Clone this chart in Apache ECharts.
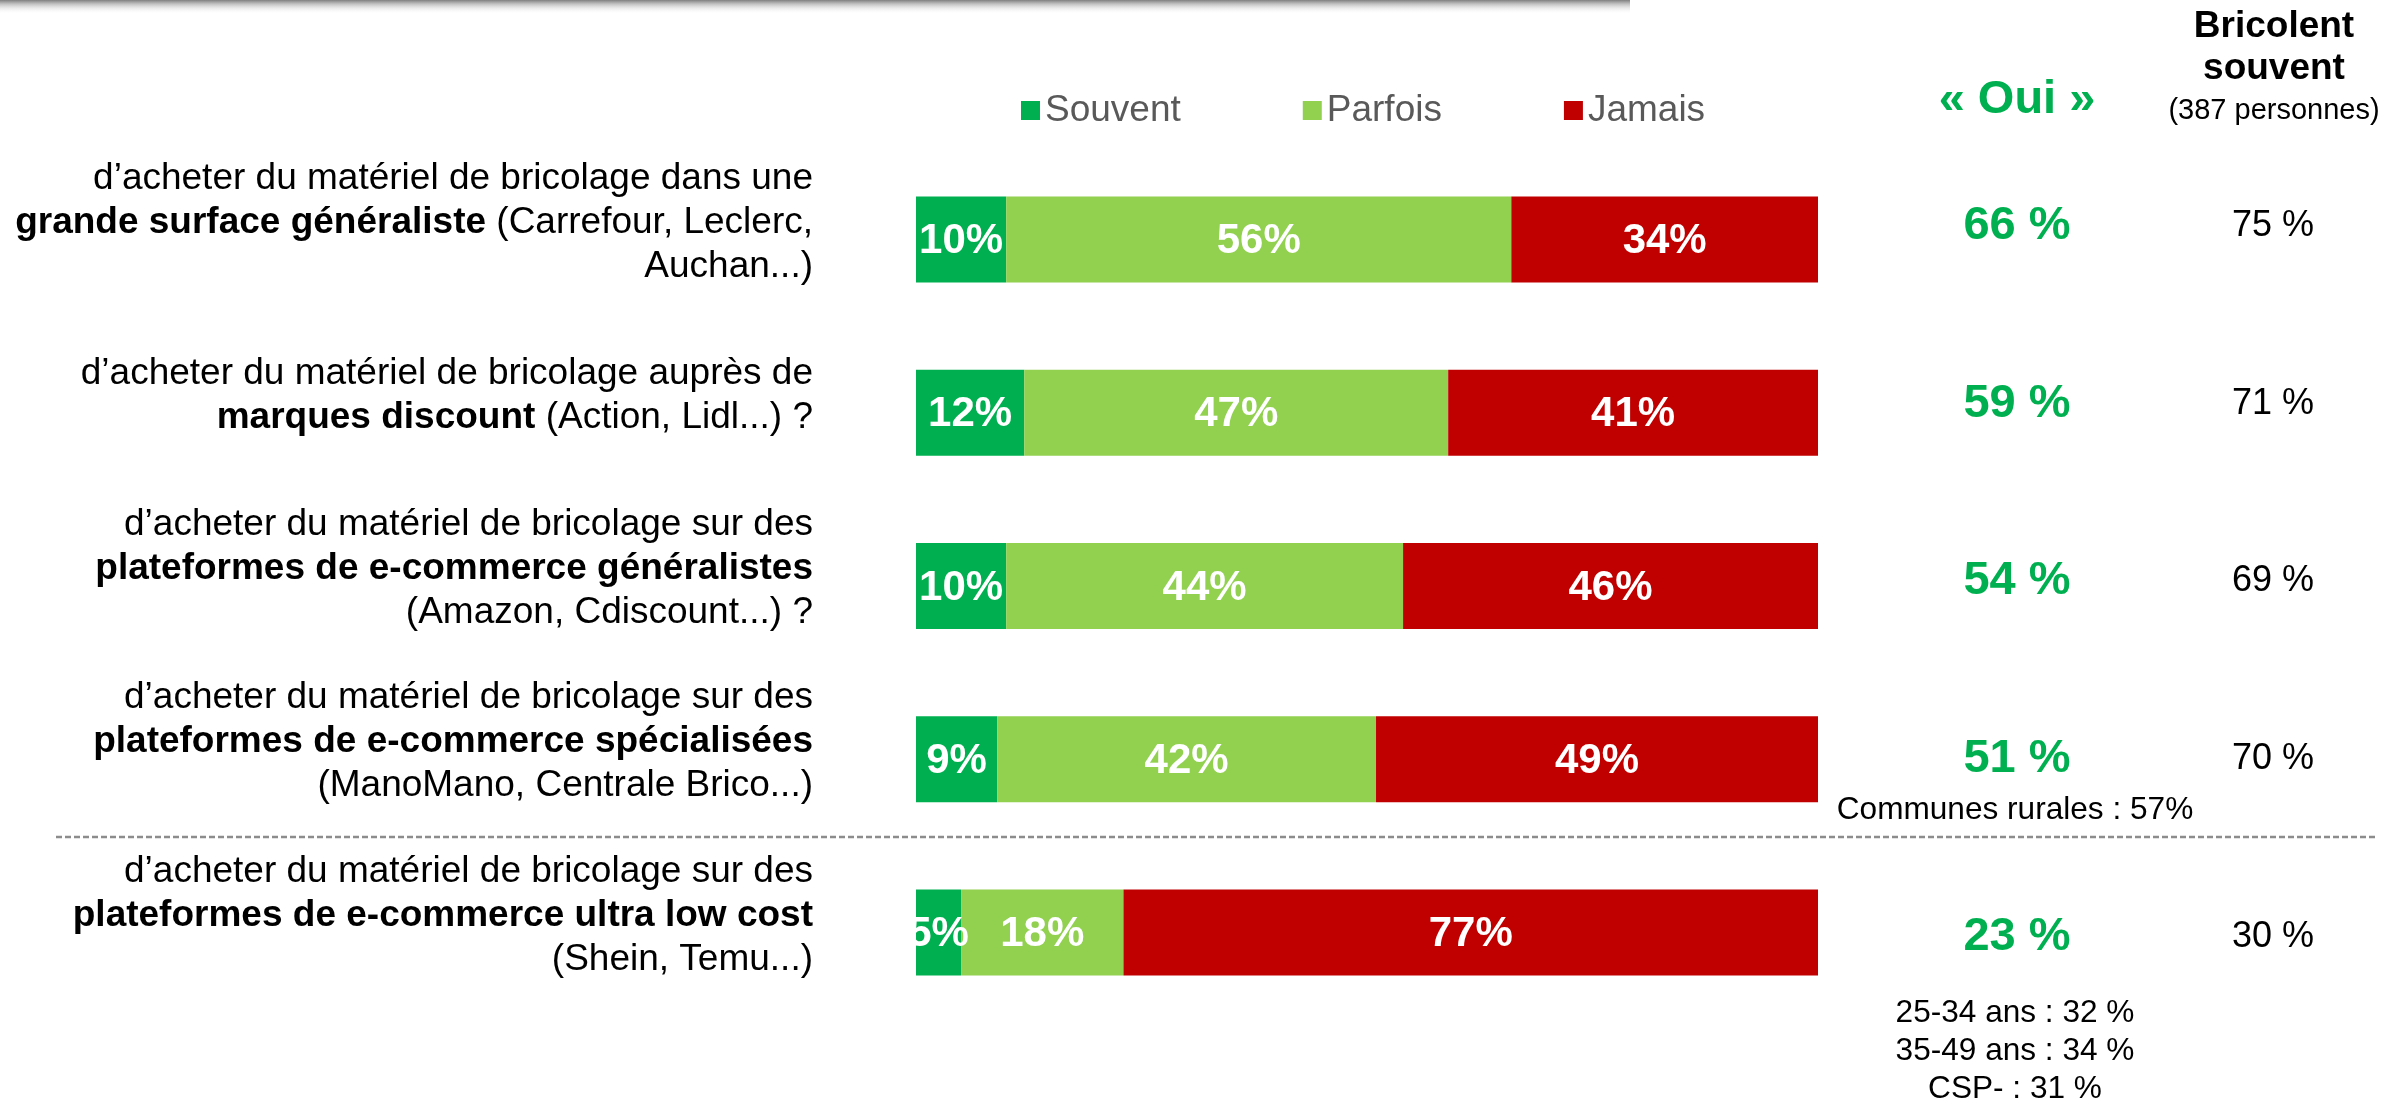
<!DOCTYPE html>
<html lang="fr">
<head>
    <meta charset="UTF-8">
    <title>Achat de matériel de bricolage</title>
    <style>
        body{
            margin: 0;
            background: #fff;
        }
        #main{
            width: 2382px;
            height: 1103px;
        }
    </style>
    <script src="https://cdn.jsdelivr.net/npm/echarts@6/dist/echarts.min.js"></script>
</head>
<body>
<div id="main"></div>
<script>
// questions, bold part between *...*
var questions = [
    'd’acheter du matériel de bricolage dans une\n*grande surface généraliste* (Carrefour, Leclerc,\nAuchan...)',
    'd’acheter du matériel de bricolage auprès de\n*marques discount* (Action, Lidl...) ?',
    'd’acheter du matériel de bricolage sur des\n*plateformes de e-commerce généralistes*\n(Amazon, Cdiscount...) ?',
    'd’acheter du matériel de bricolage sur des\n*plateformes de e-commerce spécialisées*\n(ManoMano, Centrale Brico...)',
    'd’acheter du matériel de bricolage sur des\n*plateformes de e-commerce ultra low cost*\n(Shein, Temu...)'
];
var souvent = [10, 12, 10, 9, 5];
var parfois = [56, 47, 44, 42, 18];
var jamais = [34, 41, 46, 49, 77];
var oui = [66, 59, 54, 51, 23];
var bricolentSouvent = [75, 71, 69, 70, 30];
var legendNames = ['Souvent', 'Parfois', 'Jamais'];
var notesRural = ['Communes rurales : 57%'];
var notesLowCost = ['25-34 ans : 32 %', '35-49 ans : 34 %', 'CSP- : 31 %'];

var FONT = 'Liberation Sans, Arial, sans-serif';
var GREEN = '#00B050', LIGHT = '#92D050', RED = '#C00000';

function toRich(s){
    return s.split('\n').map(function(line){
        return line.split('*').map(function(p, i){
            return p ? '{' + (i % 2 ? 'b' : 'n') + '|' + p + '}' : '';
        }).join('');
    }).join('\n');
}

function barSeries(name, data, color){
    return {
        name: name,
        type: 'bar',
        stack: 'total',
        barWidth: 86,
        data: data,
        itemStyle: { color: color },
        label: {
            show: true,
            position: 'inside',
            offset: [0, 2],
            formatter: '{c}%',
            color: '#fff',
            fontSize: 42,
            fontWeight: 'bold',
            fontFamily: FONT
        }
    };
}

function valueSeries(name, data, col, size, color, weight){
    return {
        name: name,
        type: 'scatter',
        xAxisIndex: 1,
        yAxisIndex: 1,
        symbolSize: 1,
        itemStyle: { color: 'rgba(0,0,0,0)', opacity: 1 },
        data: data.map(function(v, i){ return [col, i, v]; }),
        label: {
            show: true,
            position: 'inside',
            formatter: function(p){ return p.value[2] + ' %'; },
            color: color,
            fontSize: size,
            fontWeight: weight,
            fontFamily: FONT
        }
    };
}

function textEl(text, x, y, size, color, weight){
    return {
        type: 'text',
        x: x,
        y: y,
        style: {
            text: text,
            fill: color,
            fontSize: size,
            fontWeight: weight || 'normal',
            fontFamily: FONT,
            align: 'center',
            verticalAlign: 'middle'
        }
    };
}

var graphics = [
    {
        type: 'rect',
        shape: { x: 0, y: 0, width: 1630, height: 14 },
        style: {
            fill: new echarts.graphic.LinearGradient(0, 0, 0, 1, [
                { offset: 0, color: 'rgba(120,120,120,0.95)' },
                { offset: 0.35, color: 'rgba(170,170,170,0.6)' },
                { offset: 1, color: 'rgba(255,255,255,0)' }
            ])
        },
        silent: true
    },
    {
        type: 'line',
        shape: { x1: 56, y1: 837, x2: 2376, y2: 837 },
        style: { stroke: '#8c8c8c', lineWidth: 2.5, lineDash: [6, 3] },
        silent: true
    },
    textEl('« Oui »', 2017, 100, 47, GREEN, 'bold'),
    textEl('Bricolent', 2274, 27, 37, '#000', 'bold'),
    textEl('souvent', 2274, 69, 37, '#000', 'bold'),
    textEl('(387 personnes)', 2274, 111, 29, '#000')
];
notesRural.forEach(function(t, i){
    graphics.push(textEl(t, 2015, 810 + i * 39, 31.6, '#000'));
});
notesLowCost.forEach(function(t, i){
    graphics.push(textEl(t, 2015, 1013 + i * 38, 31.6, '#000'));
});

var myChart = echarts.init(document.getElementById('main'));
var option = {
    animation: false,
    textStyle: { fontFamily: FONT },
    legend: {
        data: legendNames,
        left: 1016,
        top: 87,
        icon: 'rect',
        itemWidth: 19,
        itemHeight: 19,
        itemGap: 122,
        selectedMode: false,
        textStyle: { fontSize: 37, color: '#595959', fontFamily: FONT }
    },
    grid: [
        { left: 916, right: 564, top: 153, bottom: 84 },
        { left: 2017, width: 256, top: 137, bottom: 77 }
    ],
    xAxis: [
        { type: 'value', min: 0, max: 100, show: false },
        { type: 'value', min: 0, max: 1, show: false, gridIndex: 1 }
    ],
    yAxis: [
        {
            type: 'category',
            inverse: true,
            data: questions,
            axisLine: { show: false },
            axisTick: { show: false },
            axisLabel: {
                margin: 103,
                padding: [0, 0, 34, 0],
                formatter: toRich,
                rich: {
                    n: { fontSize: 37, color: '#000', fontFamily: FONT, lineHeight: 44, align: 'right' },
                    b: { fontSize: 37, color: '#000', fontFamily: FONT, fontWeight: 'bold', lineHeight: 44, align: 'right' }
                }
            }
        },
        {
            type: 'category',
            inverse: true,
            gridIndex: 1,
            data: questions.map(function(q, i){ return i; }),
            show: false
        }
    ],
    series: [
        barSeries('Souvent', souvent, GREEN),
        barSeries('Parfois', parfois, LIGHT),
        barSeries('Jamais', jamais, RED),
        valueSeries('Oui', oui, 0, 47, GREEN, 'bold'),
        valueSeries('Bricolent souvent', bricolentSouvent, 1, 36, '#000', 'normal')
    ],
    graphic: graphics
};
myChart.setOption(option);
</script>
</body>
</html>
